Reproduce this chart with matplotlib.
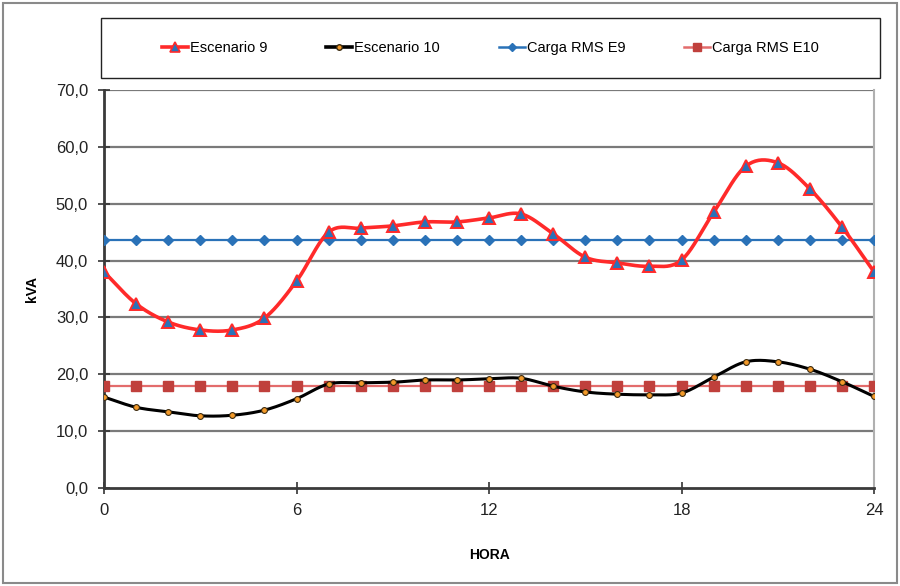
import matplotlib

matplotlib.use("Agg")

import matplotlib.pyplot as plt
import numpy as np
from matplotlib.patches import Rectangle
from matplotlib.ticker import FuncFormatter

plt.rcParams["font.family"] = ["Liberation Sans", "DejaVu Sans"]

# hourly apparent power (kVA)
hours = list(range(25))
escenario_9 = [38.0, 32.4, 29.2, 27.8, 27.8, 29.9, 36.4, 45.0, 45.7, 46.1, 46.8, 46.8, 47.5,
               48.2, 44.7, 40.6, 39.6, 39.0, 40.1, 48.5, 56.6, 57.2, 52.6, 45.9, 38.0]
escenario_10 = [16.0, 14.2, 13.4, 12.7, 12.8, 13.7, 15.7, 18.3, 18.5, 18.6, 19.0, 19.0, 19.2,
                19.3, 17.9, 16.9, 16.5, 16.4, 16.7, 19.5, 22.2, 22.2, 20.9, 18.7, 16.1]
carga_rms_e9 = [43.6] * 25
carga_rms_e10 = [17.9] * 25

series_names = ["Escenario 9", "Escenario 10", "Carga RMS E9", "Carga RMS E10"]
x_ticks = [0, 6, 12, 18, 24]
y_ticks = [0, 10, 20, 30, 40, 50, 60, 70]


def smooth(x, y, n=20):
    """Catmull-Rom curve through the points (like a spreadsheet 'smoothed line')."""
    x = np.asarray(x, float); y = np.asarray(y, float)
    px = np.concatenate([[2 * x[0] - x[1]], x, [2 * x[-1] - x[-2]]])
    py = np.concatenate([[2 * y[0] - y[1]], y, [2 * y[-1] - y[-2]]])
    xs, ys = [], []
    t = np.linspace(0, 1, n, endpoint=False)
    for i in range(1, len(px) - 2):
        for p, out in ((px, xs), (py, ys)):
            p0, p1, p2, p3 = p[i - 1], p[i], p[i + 1], p[i + 2]
            out.extend(0.5 * (2 * p1 + (-p0 + p2) * t + (2 * p0 - 5 * p1 + 4 * p2 - p3) * t ** 2
                              + (-p0 + 3 * p1 - 3 * p2 + p3) * t ** 3))
    xs.append(x[-1]); ys.append(y[-1])
    return np.array(xs), np.array(ys)


fig = plt.figure(figsize=(9, 5.86), dpi=100)
ax = fig.add_axes([0.1156, 0.1672, 0.8556, 0.6792])

# outer frame and legend frame
fig.patches.append(Rectangle((0.003, 0.005), 0.994, 0.99, transform=fig.transFigure,
                             fill=False, ec="#8a8a8a", lw=1.5))
fig.patches.append(Rectangle((0.112, 0.867), 0.866, 0.102, transform=fig.transFigure,
                             fill=False, ec="#222222", lw=1.0))

for yv in y_ticks[1:]:
    ax.axhline(yv, color="#7a7a7a", lw=1.6, zorder=1)

red, blue, rms10_line, rms10_mark = "#ff2a2a", "#2a72b8", "#e36c6c", "#c0403c"

sx, sy = smooth(hours, escenario_9)
ax.plot(sx, sy, color=red, lw=2.6, zorder=4)
ax.plot(hours, escenario_9, ls="none", marker="^", ms=8.5, mfc=blue, mec=red, mew=1.4, zorder=5)

sx, sy = smooth(hours, escenario_10)
ax.plot(sx, sy, color="black", lw=2.2, zorder=4)
ax.plot(hours, escenario_10, ls="none", marker="o", ms=4.2, mfc="#f39a2a", mec="#3a2a10",
        mew=0.8, zorder=5)

ax.plot(hours, carga_rms_e9, color=blue, lw=1.6, marker="D", ms=5, mfc=blue, mec=blue, zorder=3)
ax.plot(hours, carga_rms_e10, color=rms10_line, lw=1.6, marker="s", ms=6.5, mfc=rms10_mark,
        mec=rms10_mark, zorder=3)

ax.set_xlim(0, 24)
ax.set_ylim(0, 70)
ax.set_xticks(x_ticks)
ax.set_yticks(y_ticks)
ax.yaxis.set_major_formatter(FuncFormatter(lambda v, _: f"{v:.1f}".replace(".", ",")))
ax.tick_params(direction="inout", length=9, width=1.2, color="#333333", labelsize=12,
               labelcolor="#222222")
ax.tick_params(axis="x", pad=6)
ax.tick_params(axis="y", pad=7)
for side in ("left", "bottom"):
    ax.spines[side].set_color("#3a3a3a")
    ax.spines[side].set_linewidth(2)
ax.spines["top"].set_visible(False)
ax.spines["right"].set_color("#b0b0b0")
ax.spines["right"].set_linewidth(1.5)

ax.set_ylabel("kVA", fontsize=10, fontweight="bold", labelpad=12)
ax.set_xlabel("HORA", fontsize=10, fontweight="bold", labelpad=22)

handles = [
    plt.Line2D([], [], color=red, lw=2.6, marker="^", ms=7, mfc=blue, mec=red, mew=1.2),
    plt.Line2D([], [], color="black", lw=2.6, marker="o", ms=4, mfc="#f39a2a", mec="#3a2a10"),
    plt.Line2D([], [], color=blue, lw=1.8, marker="D", ms=4.5, mfc=blue, mec=blue),
    plt.Line2D([], [], color=rms10_line, lw=1.8, marker="s", ms=6, mfc=rms10_mark, mec=rms10_mark),
]
fig.legend(handles, series_names, loc="center", bbox_to_anchor=(0.545, 0.918), ncol=4,
           frameon=False, fontsize=10.5, handlelength=1.78, handletextpad=0.15, columnspacing=4.0)

fig.savefig("out.png", dpi=100)
